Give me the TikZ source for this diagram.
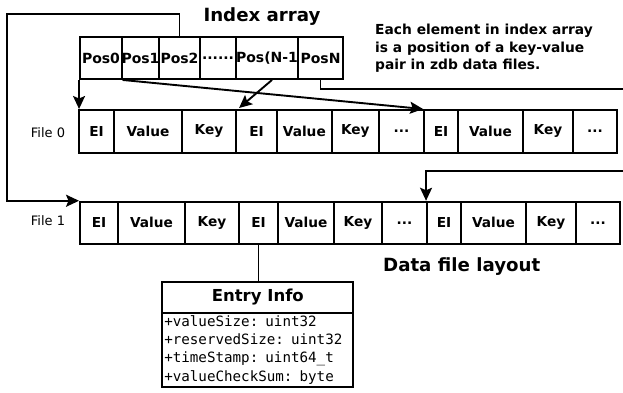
\documentclass[tikz,border=0pt]{standalone}
\usepackage{fontspec}
\setmainfont{DejaVu Sans}
\setmonofont{DejaVu Sans Mono}
\usetikzlibrary{arrows.meta}
\newcommand\mydots{...}
\begin{document}
\begin{tikzpicture}[x=1pt,y=-1pt,
  cell/.style={draw, line width=1.9pt, inner sep=0pt, font=\fontsize{13.7}{16}\selectfont\bfseries},
  idx/.style={draw, line width=1.9pt, inner sep=0pt, font=\fontsize{14}{16}\selectfont\bfseries},
  conn/.style={line width=1.9pt},
  arr/.style={line width=1.9pt, -{Stealth[length=13pt,width=12pt,inset=2.5pt]}},
  lbl/.style={inner sep=0pt, font=\fontsize{13}{15}\selectfont},
  heading/.style={inner sep=0pt, font=\fontsize{18.2}{20}\selectfont\bfseries}
]
\useasboundingbox (0,0) rectangle (623,392);

% titles
\node[heading] (title) at (262,17) {Index array};
\node[heading] (dfl) at (461.7,266.7) {Data file layout};

% note
\node[anchor=west, align=left, inner sep=0pt, font=\fontsize{13.8}{17.5}\selectfont\bfseries] (note) at (375,48.5)
  {Each element in index array\\is a position of a key-value\\pair in zdb data files.};

% index array
\foreach \a/\b/\t [count=\i from 0] in {80/122/Pos0, 122/159/Pos1, 159/200/Pos2, 200/236/\mydots\mydots, 236/298/{Pos(N-1}, 298/343/PosN}
  \node[idx, minimum width={(\b-\a)*1pt}, minimum height=42pt] (ia\i) at ({(\a+\b)/2},58) {\t};

% file 0
\foreach \a/\b/\t [count=\i] in {79/114/EI, 114/182/Value, 182/236/Key, 236/277/EI, 277/331.7/Value, 331.7/379/Key, 379/424/\mydots, 424/458/EI, 458/523/Value, 523/573/Key, 573/617/\mydots}
  \node[cell, minimum width={(\b-\a)*1pt}, minimum height=42.7pt] (f0c\i) at ({(\a+\b)/2},131.3) {\t};

% file 1
\foreach \a/\b/\t [count=\i] in {80/118/EI, 118/185/Value, 185/239/Key, 239/278/EI, 278/334/Value, 334/382/Key, 382/427/\mydots, 427/461/EI, 461/526/Value, 526/576/Key, 576/620/\mydots}
  \node[cell, minimum width={(\b-\a)*1pt}, minimum height=42.3pt] (f1c\i) at ({(\a+\b)/2},222.85) {\t};

\node[lbl] (file0) at (48,133) {File 0};
\node[lbl] (file1) at (48,221) {File 1};

% entry info
\node[draw, line width=1.9pt, outer sep=0pt, minimum width=191pt, minimum height=30.7pt, inner sep=0pt, anchor=north west,
  font=\fontsize{16.5}{20}\selectfont\bfseries] (eh) at (162.3,282) {Entry Info};
\node[draw, line width=1.9pt, outer sep=0pt, text width=187pt, inner sep=2pt, minimum height=74pt, anchor=north west, align=left,
  font=\fontsize{14.2}{18.3}\selectfont\ttfamily] (eb) at (eh.south west)
  {+valueSize: uint32\\+reservedSize: uint32\\+timeStamp: uint64\_t\\+valueCheckSum: byte};

% connectors
\coordinate (t1) at (7,14);
\draw[arr] (ia2.north) |- (t1) |- (f1c1.north west);
\draw[arr] (ia0.south west) -- (ia0.south west |- f0c1.north);
\draw[arr] ([xshift=2pt]ia1.south west) -- (f0c8.north west);
\draw[arr] ([xshift=5pt]ia4.south) -- ([xshift=4pt,yshift=1pt]f0c4.north west);
\coordinate (e1) at (630,89);
\coordinate (e2) at (630,171);
\draw[conn] (ia5.south) |- (e1);
\draw[arr] (e2) -| (f1c8.north west);
\draw[conn] (f1c4.south) -- (f1c4.south |- eh.north);
\end{tikzpicture}
\end{document}
